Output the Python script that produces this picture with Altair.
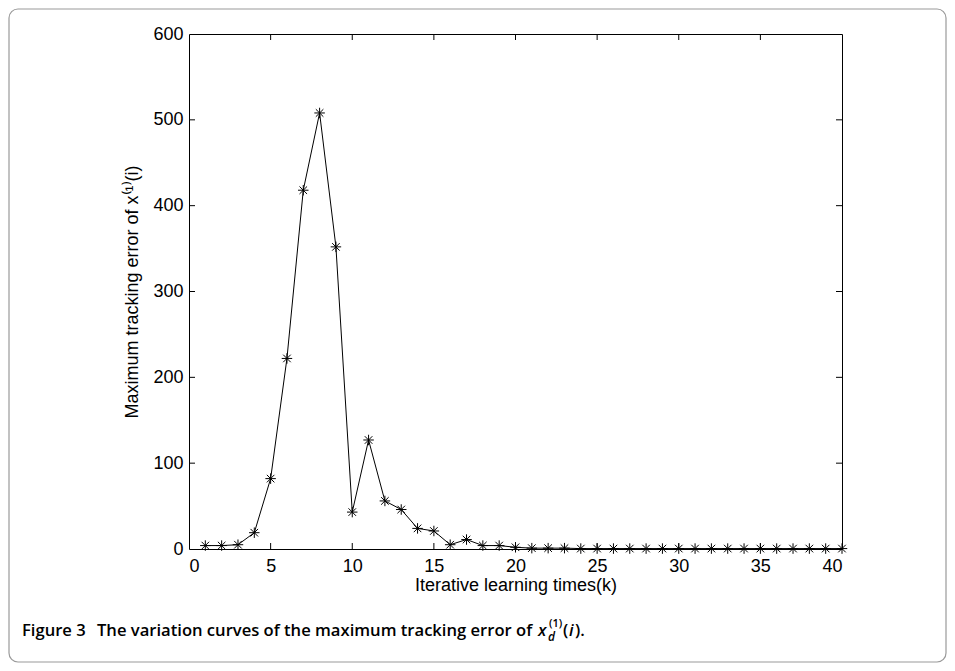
import altair as alt
import pandas as pd

# ---------------- data ----------------
iterations = list(range(1, 41))
max_error = [4, 4, 5, 19, 82, 222, 418, 508, 352, 43,
             127, 56, 46, 24, 21, 5, 11, 4, 4, 2,
             1, 1, 1, 0.5, 0.5, 0.5, 0.5, 0.5, 0.5, 0.5,
             0.5, 0.5, 0.5, 0.5, 0.5, 0.5, 0.5, 0.5, 0.5, 0.5]
x_ticks = [0, 5, 10, 15, 20, 25, 30, 35, 40]
y_ticks = [0, 100, 200, 300, 400, 500, 600]

x_title = "Iterative learning times(k)"
y_title = "Maximum tracking error of x\u207d\u00b9\u207e(i)"
caption_fig = ["Figure 3"]
caption_main = ["The variation curves of the maximum tracking error of"]
caption_x = ["x"]
caption_sub = ["d"]
caption_sup = ["(1)"]
caption_paren1 = ["("]
caption_i = ["i"]
caption_end = [")."]

# ---------------- layout ----------------
W, H = 653, 515
LEFT, TOP = 181, 26
PAD = {"left": LEFT, "top": TOP, "right": 939 - LEFT - W, "bottom": 655 - TOP - H}
OX, OY = LEFT + 8, TOP + 8  # page coordinates of plot origin

FONT = "Liberation Sans"
CAPFONT = "Open Sans"
STAR = "M-1,0L1,0M0,-1L0,1M-0.72,-0.72L0.72,0.72M-0.72,0.72L0.72,-0.72"

df = pd.DataFrame({"k": iterations, "err": max_error})
xt = pd.DataFrame({"v": x_ticks[1:-1]})
yt = pd.DataFrame({"v": y_ticks[1:-1]})

xscale = alt.Scale(domain=[0, 40], nice=False, zero=False)
yscale = alt.Scale(domain=[0, 600], nice=False, zero=False)

x_axis = alt.Axis(values=x_ticks, title=x_title, ticks=False, domain=False, grid=False,
                  labelPadding=8, labelFont=FONT, labelFontSize=18, labelColor="black",
                  titleFont=FONT, titleFontSize=18, titleFontWeight="normal", titleColor="black",
                  titleBaseline="alphabetic", titleY=41)
y_axis = alt.Axis(values=y_ticks, title=y_title, ticks=False, domain=False, grid=False,
                  labelPadding=6, labelFont=FONT, labelFontSize=18, labelColor="black",
                  titleFont=FONT, titleFontSize=18, titleFontWeight="normal", titleColor="black",
                  titleBaseline="alphabetic", titleX=-52)

X = alt.X("k:Q", scale=xscale, axis=x_axis)
Y = alt.Y("err:Q", scale=yscale, axis=y_axis)

frame = alt.Chart(pd.DataFrame({"a": [0]})).mark_rect(
    fill="white", fillOpacity=0, stroke="#9a9a9a", strokeWidth=1.2, cornerRadius=9
).encode(x=alt.value(9 - OX), x2=alt.value(946 - OX), y=alt.value(9 - OY), y2=alt.value(662 - OY))

line = alt.Chart(df).mark_line(color="black", strokeWidth=1).encode(x=X, y=Y)
points = alt.Chart(df).mark_point(shape=STAR, size=110, filled=False, color="black",
                                  strokeWidth=1, opacity=1).encode(x=X, y=Y)

TL = 6
XV = alt.X("v:Q", scale=xscale, axis=x_axis)
YV = alt.Y("v:Q", scale=yscale, axis=y_axis)
bot_ticks = alt.Chart(xt).mark_rule(color="black", strokeWidth=1).encode(
    x=XV, y=alt.value(H), y2=alt.value(H - TL))
top_ticks = alt.Chart(xt).mark_rule(color="black", strokeWidth=1).encode(
    x=XV, y=alt.value(0), y2=alt.value(TL))
left_ticks = alt.Chart(yt).mark_rule(color="black", strokeWidth=1).encode(
    y=YV, x=alt.value(0), x2=alt.value(TL))
right_ticks = alt.Chart(yt).mark_rule(color="black", strokeWidth=1).encode(
    y=YV, x=alt.value(W), x2=alt.value(W - TL))


def cap(text_list, px, py, size=16.6, style="normal"):
    return alt.Chart(pd.DataFrame({"t": text_list})).mark_text(
        font=CAPFONT, fontSize=size, fontWeight=600, fontStyle=style, color="black",
        align="left", baseline="alphabetic"
    ).encode(text="t:N", x=alt.value(px - OX), y=alt.value(py - OY))


CAP_Y = 636
caption = (cap(caption_fig, 22, CAP_Y)
           + cap(caption_main, 97, CAP_Y)
           + cap(caption_x, 538, CAP_Y, style="italic")
           + cap(caption_sub, 548, CAP_Y + 5, size=12, style="italic")
           + cap(caption_sup, 549, CAP_Y - 9, size=11)
           + cap(caption_paren1, 563, CAP_Y)
           + cap(caption_i, 569, CAP_Y, style="italic")
           + cap(caption_end, 575, CAP_Y))

chart = alt.layer(line, points, bot_ticks, top_ticks, left_ticks, right_ticks, frame, caption).properties(
    width=W, height=H, padding=PAD, background="white",
    autosize=alt.AutoSizeParams(type="none"),
).configure_view(stroke="black", strokeWidth=1)

chart.save("out.html", embed_options={"renderer": "svg", "actions": False})
